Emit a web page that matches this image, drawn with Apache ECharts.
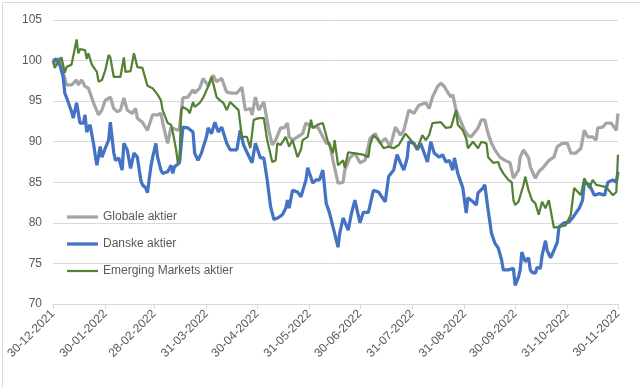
<!DOCTYPE html>
<html>
<head>
<meta charset="utf-8">
<script src="https://cdn.jsdelivr.net/npm/echarts@6/dist/echarts.min.js"></script>
<style>
html,body{margin:0;padding:0;background:#fff;}
#c{width:640px;height:387px;}
</style>
</head>
<body>
<div id="c"></div>
<script>
// Tick labels (dates) and their day offsets from 30-12-2021
const tickLabels = ["30-12-2021","30-01-2022","28-02-2022","31-03-2022","30-04-2022","31-05-2022","30-06-2022","31-07-2022","31-08-2022","30-09-2022","31-10-2022","30-11-2022"];
const tickDays = [0,31,60,91,121,152,182,213,244,274,305,335];

const seriesNames = ["Globale aktier","Danske aktier","Emerging Markets aktier"];

// Globale aktier
const globaleDays = [0,1,4,6,8,11,14,15,17,19,21,24,25,27,29,31,34,36,38,40,42,44,47,49,50,53,56,59,62,64,65,67,68,70,71,74,75,77,80,83,84,87,89,92,95,97,100,103,106,109,112,114,117,118,120,122,125,128,130,132,135,137,139,140,142,145,148,150,151,154,157,162,164,166,169,172,173,176,179,182,185,188,191,194,197,200,203,206,208,211,214,217,221,223,225,228,230,232,234,236,237,239,242,244,246,248,249,252,254,256,258,260,262,265,268,271,273,276,277,279,282,283,286,288,291,294,297,299,302,305,307,310,313,315,317,320,322,323,326,328,331,334,335];
const globaleVals = [100.0,99.5,100.3,98.6,97.0,97.0,97.6,97.0,97.6,96.8,96.6,94.8,94.3,93.3,93.9,95.1,95.5,94.1,93.7,93.9,95.4,93.9,93.5,94.1,92.9,92.4,91.4,93.3,93.3,93.5,92.4,90.6,89.8,91.8,91.8,91.4,91.7,95.4,95.5,96.4,96.0,96.6,97.8,96.9,98.2,97.4,97.8,96.1,96.0,96.0,96.7,93.9,94.1,93.3,95.5,93.9,94.9,91.4,89.6,90.2,91.7,91.7,92.3,90.6,90.2,90.6,91.0,92.3,92.3,91.8,91.8,89.8,89.8,87.7,84.9,85.0,86.5,88.0,88.6,87.4,87.7,90.4,91.0,89.8,90.4,89.4,91.8,90.8,91.4,93.9,93.5,94.5,94.8,94.1,95.5,96.8,97.2,96.8,96.1,95.5,95.8,93.9,92.4,91.4,90.8,90.6,90.6,91.7,92.7,92.7,91.0,89.8,89.0,88.1,87.7,87.4,85.5,86.5,88.1,89.0,88.0,86.9,85.5,86.3,86.9,87.7,88.1,89.4,89.8,89.8,88.6,88.6,89.2,91.4,90.6,90.6,90.2,91.7,91.8,92.3,92.3,91.4,93.5];

// Danske aktier
const danskeDays = [0,2,4,6,7,9,11,12,14,16,18,19,20,22,24,25,26,28,29,31,33,34,36,37,39,41,42,44,46,48,50,52,53,55,56,58,59,61,62,64,65,68,70,71,72,75,77,80,83,84,86,88,91,92,94,96,98,100,103,105,109,111,113,115,118,120,123,125,127,129,131,134,136,138,139,140,142,145,147,148,150,151,154,156,158,160,162,164,166,167,169,170,172,175,177,179,182,184,187,190,193,197,199,202,204,206,208,210,211,214,216,218,222,224,226,227,229,231,233,235,237,238,240,242,243,245,246,249,251,252,255,256,258,260,262,264,266,267,270,273,274,276,277,278,280,282,283,284,286,287,289,290,292,293,295,297,299,300,303,306,308,310,312,314,315,318,321,324,327,329,332,334,335];
const danskeVals = [100.0,100.2,99.5,98.0,96.0,94.9,93.7,92.9,94.8,92.3,92.3,93.3,91.2,92.1,89.8,88.4,87.1,89.4,88.1,89.2,90.2,92.4,88.7,87.7,88.0,86.5,89.8,89.0,86.7,88.6,88.1,85.3,84.7,84.3,83.7,86.9,88.0,89.8,88.1,86.5,86.1,86.3,87.1,86.1,86.9,87.4,91.8,91.7,91.2,88.6,87.7,88.6,90.6,91.7,91.0,92.4,91.2,91.8,89.8,89.0,89.0,91.4,89.6,88.7,87.4,89.8,88.0,88.0,85.3,82.0,80.4,80.7,81.0,81.8,82.8,81.8,84.0,83.8,83.2,83.4,85.3,86.8,84.9,85.3,85.3,86.5,82.4,81.2,79.5,79.7,77.0,78.7,80.6,79.1,81.2,82.8,80.0,81.3,81.3,84.0,83.8,82.6,85.7,86.5,88.4,87.4,86.5,88.0,90.0,89.8,89.0,89.8,87.5,90.0,88.6,88.7,88.1,88.4,87.5,87.7,86.5,88.0,86.1,84.9,84.3,81.2,83.1,82.6,82.2,83.7,84.3,84.7,81.6,78.7,77.5,76.9,75.4,74.2,74.2,74.4,72.3,73.3,74.2,76.4,75.2,75.7,74.2,73.9,73.8,74.5,74.4,76.0,77.8,76.6,75.7,76.6,77.6,79.5,80.0,80.1,80.6,81.2,81.8,82.8,85.0,84.7,83.4,83.6,83.4,85.0,85.3,85.0,86.3];

// Emerging Markets aktier
const emDays = [0,1,5,7,8,11,14,15,16,19,20,21,23,26,27,29,31,33,34,36,40,42,43,46,48,50,53,56,59,62,64,65,68,70,71,73,74,75,76,77,80,81,83,84,87,89,92,94,97,99,101,103,105,108,110,112,115,117,119,122,125,127,130,132,133,135,138,140,142,145,147,148,151,153,154,157,160,163,166,167,169,172,173,175,178,184,187,188,190,193,196,199,202,205,209,213,216,219,221,223,225,230,233,236,237,239,240,243,245,246,249,252,254,257,258,261,264,265,267,270,272,273,274,276,279,280,282,284,286,288,290,292,294,297,300,304,307,309,313,315,318,320,322,328,332,334,335];
const emVals = [100.0,99.1,100.4,98.5,99.2,99.5,102.6,100.9,101.4,101.3,100.2,100.9,99.5,98.6,97.4,97.6,98.8,100.7,100.4,98.0,98.0,100.4,98.6,98.7,100.9,99.2,99.1,96.9,96.6,95.8,95.1,93.9,92.3,92.1,91.2,89.0,87.4,87.8,93.9,94.3,93.9,93.5,94.9,94.3,94.8,95.4,96.8,98.0,95.5,95.1,94.8,93.9,94.9,94.3,93.9,90.6,90.6,89.2,92.7,92.9,92.9,90.2,87.5,87.7,89.8,89.6,90.6,89.4,90.2,88.1,89.0,90.2,90.6,92.7,91.7,92.1,92.3,90.0,88.6,90.2,87.1,87.7,86.8,88.7,88.6,88.4,88.1,89.6,90.8,90.2,89.2,89.4,89.2,89.6,91.0,90.0,89.2,90.8,90.2,90.8,92.3,92.4,91.7,91.8,91.8,93.9,92.1,91.4,90.4,89.2,90.0,89.2,90.0,89.8,88.1,87.4,87.5,86.8,86.1,85.3,85.0,82.8,82.2,82.6,84.7,85.7,84.0,82.8,82.4,81.0,82.6,81.8,82.8,79.4,79.5,79.7,81.0,84.3,83.4,85.5,84.3,85.3,84.7,84.4,83.4,83.8,88.4];

const zip = (xs, ys) => xs.map((x, i) => [x, ys[i]]);
const FONT = "'Liberation Sans', Arial, sans-serif";
const TXT = '#595959';
const COLORS = ['#A5A5A5', '#4472C4', '#548235'];
const WIDTHS = [3.25, 3.25, 2.25];

const chart = echarts.init(document.getElementById('c'), null, {renderer: 'canvas'});
chart.setOption({
  backgroundColor: '#fff',
  animation: false,
  textStyle: {fontFamily: FONT},
  graphic: [{
    type: 'rect', left: 0, top: 0, silent: true,
    shape: {x: 0.5, y: 0.5, width: 639, height: 386},
    style: {fill: 'none', stroke: '#D9D9D9', lineWidth: 1}
  }],
  grid: {left: 53, right: 22, top: 20, bottom: 83},
  legend: {
    orient: 'vertical', left: 62, top: 206,
    itemWidth: 31, itemHeight: 14, itemGap: 15,
    symbolKeepAspect: true,
    textStyle: {color: TXT, fontSize: 12, fontFamily: FONT},
    data: seriesNames.map((n, i) => ({
      name: n,
      icon: 'path://M0,0H31V' + WIDTHS[i] + 'H0Z',
      itemStyle: {color: COLORS[i]}
    }))
  },
  xAxis: {
    type: 'value', min: 0, max: 335,
    axisLine: {show: true, lineStyle: {color: '#D9D9D9', width: 1}},
    axisTick: {show: true, length: 5, customValues: tickDays, lineStyle: {color: '#D9D9D9'}},
    splitLine: {show: false},
    axisLabel: {
      customValues: tickDays, rotate: 45, margin: 8,
      color: TXT, fontSize: 12, fontFamily: FONT,
      formatter: v => tickLabels[tickDays.indexOf(Math.round(v))] || ''
    }
  },
  yAxis: {
    type: 'value', min: 70, max: 105, interval: 5,
    axisLine: {show: false}, axisTick: {show: false},
    splitLine: {lineStyle: {color: '#D9D9D9', width: 1}},
    axisLabel: {color: TXT, fontSize: 12, fontFamily: FONT, margin: 11}
  },
  series: [
    {name: seriesNames[0], type: 'line', symbol: 'none', data: zip(globaleDays, globaleVals),
     lineStyle: {color: COLORS[0], width: WIDTHS[0]}, itemStyle: {color: COLORS[0]}},
    {name: seriesNames[1], type: 'line', symbol: 'none', data: zip(danskeDays, danskeVals),
     lineStyle: {color: COLORS[1], width: WIDTHS[1]}, itemStyle: {color: COLORS[1]}},
    {name: seriesNames[2], type: 'line', symbol: 'none', data: zip(emDays, emVals),
     lineStyle: {color: COLORS[2], width: WIDTHS[2]}, itemStyle: {color: COLORS[2]}}
  ]
});
</script>
</body>
</html>
